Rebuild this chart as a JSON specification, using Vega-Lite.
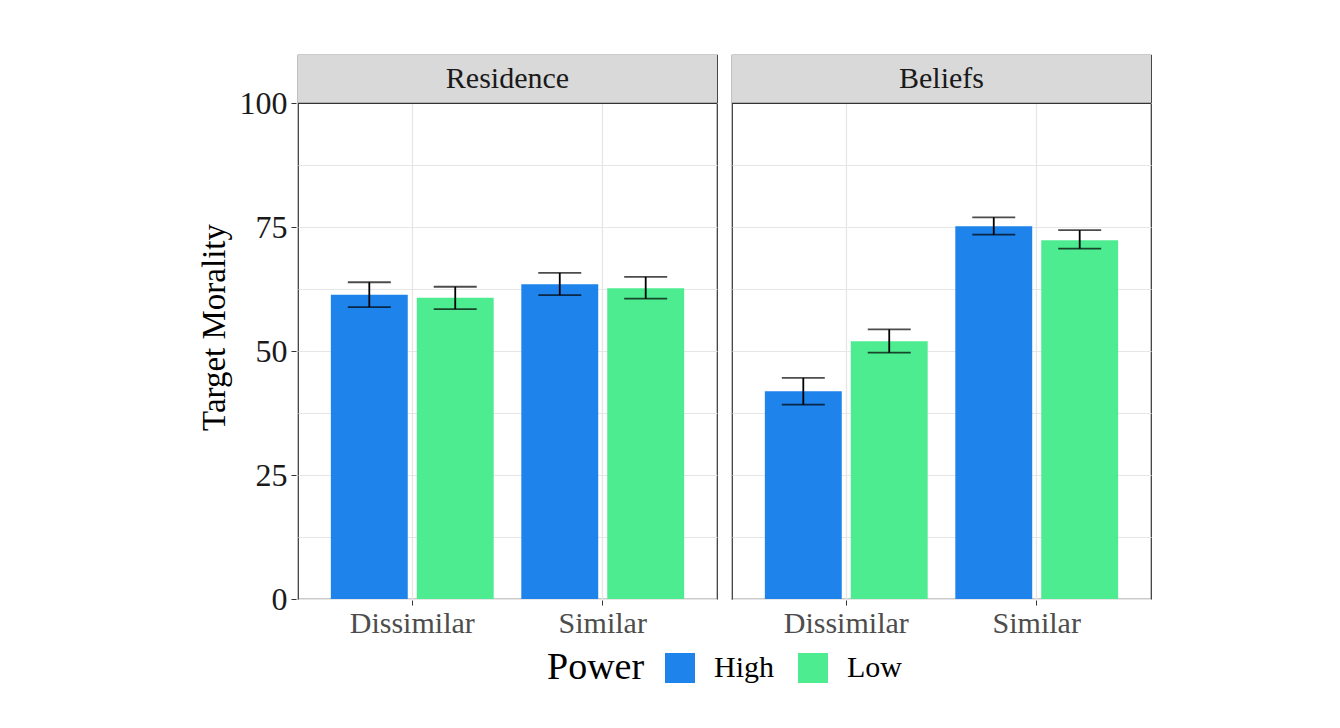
{
  "$schema": "https://vega.github.io/schema/vega-lite/v6.json",
  "background": "white",
  "padding": {"left": 198, "top": 54, "right": 0, "bottom": 0},
  "config": {
    "view": {"stroke": "#333333", "strokeWidth": 1.2},
    "font": "Liberation Serif"
  },
  "data": {
    "values": [
      {"panel": "Residence", "cond": "Dissimilar", "power": "High", "mean": 61.4, "lo": 58.9, "hi": 63.9},
      {"panel": "Residence", "cond": "Dissimilar", "power": "Low", "mean": 60.8, "lo": 58.5, "hi": 63.0},
      {"panel": "Residence", "cond": "Similar", "power": "High", "mean": 63.5, "lo": 61.3, "hi": 65.8},
      {"panel": "Residence", "cond": "Similar", "power": "Low", "mean": 62.7, "lo": 60.6, "hi": 65.0},
      {"panel": "Beliefs", "cond": "Dissimilar", "power": "High", "mean": 41.9, "lo": 39.2, "hi": 44.6},
      {"panel": "Beliefs", "cond": "Dissimilar", "power": "Low", "mean": 52.0, "lo": 49.7, "hi": 54.4},
      {"panel": "Beliefs", "cond": "Similar", "power": "High", "mean": 75.2, "lo": 73.5, "hi": 77.0},
      {"panel": "Beliefs", "cond": "Similar", "power": "Low", "mean": 72.4, "lo": 70.7, "hi": 74.4}
    ]
  },
  "facet": {"column": {"field": "panel", "type": "nominal", "sort": ["Residence", "Beliefs"], "header": null}},
  "spacing": 11,
  "spec": {
    "width": 419,
    "height": 544,
    "layer": [
      {
        "transform": [{"filter": "datum.cond === 'Dissimilar' && datum.power === 'High'"}],
        "mark": {"type": "rect", "fill": "#d9d9d9"},
        "encoding": {
          "y": {"datum": 100, "type": "quantitative"},
          "y2": {"datum": 109.75}
        }
      },
      {
        "transform": [{"filter": "datum.cond === 'Dissimilar' && datum.power === 'High'"}],
        "mark": {"type": "rule", "color": "#333333", "strokeWidth": 1.2},
        "encoding": {
          "y": {"datum": 100, "type": "quantitative"}
        }
      },
      {
        "transform": [{"filter": "datum.cond === 'Dissimilar' && datum.power === 'High'"}],
        "mark": {"type": "text", "fontSize": 30, "color": "#1a1a1a", "baseline": "middle", "align": "center"},
        "encoding": {
          "y": {"datum": 104.9, "type": "quantitative"},
          "text": {"field": "panel"}
        }
      },
      {
        "mark": {"type": "bar"},
        "encoding": {
          "x": {
            "field": "cond", "type": "nominal", "title": null, "sort": ["Dissimilar", "Similar"],
            "scale": {"paddingInner": 0.145, "paddingOuter": 0.1725},
            "axis": {"labelAngle": 0, "domain": false, "tickColor": "#333333", "tickSize": 5, "labelFontSize": 30, "labelColor": "#4d4d4d", "labelPadding": 3, "grid": true, "gridColor": "#e6e6e6", "gridWidth": 1.3, "bandPosition": 0.5}
          },
          "xOffset": {"field": "power", "type": "nominal", "scale": {"paddingInner": 0.105, "paddingOuter": 0}},
          "y": {
            "field": "mean", "type": "quantitative", "title": "Target Morality",
            "scale": {"domain": [0, 109.75], "nice": false, "zero": true},
            "axis": {
              "values": [0, 12.5, 25, 37.5, 50, 62.5, 75, 87.5, 100],
              "labelExpr": "datum.value % 25 === 0 ? datum.label : ''",
              "tickOpacity": {"condition": {"test": "datum.value % 25 !== 0", "value": 0}, "value": 1},
              "grid": true,
              "gridColor": "#e6e6e6",
              "gridWidth": 1.2,
              "domain": false, "tickColor": "#333333", "tickSize": 5,
              "labelFontSize": 32, "labelColor": "#1a1a1a", "labelPadding": 4,
              "titleFontSize": 33, "titleFontWeight": "normal", "titleColor": "black", "titlePadding": 8
            }
          },
          "fill": {
            "field": "power", "type": "nominal", "title": "Power",
            "scale": {"domain": ["High", "Low"], "range": ["#1E83EB", "#4EEC91"]},
            "legend": {"orient": "none", "legendX": 249, "legendY": 598, "direction": "horizontal", "titleOrient": "left", "titleFontSize": 38, "titleFontWeight": "normal", "titleColor": "black", "labelFontSize": 30, "labelColor": "black", "symbolType": "square", "symbolSize": 900, "symbolStrokeWidth": 0, "symbolOpacity": 1, "labelOffset": 19, "columnPadding": 24, "titlePadding": 20}
          }
        }
      },
      {
        "mark": {"type": "rule", "color": "black", "strokeWidth": 1.8},
        "encoding": {
          "x": {"field": "cond", "type": "nominal", "sort": ["Dissimilar", "Similar"]},
          "xOffset": {"field": "power", "type": "nominal"},
          "y": {"field": "lo", "type": "quantitative", "title": "Target Morality"},
          "y2": {"field": "hi"}
        }
      },
      {
        "mark": {"type": "tick", "color": "black", "size": 43, "thickness": 1.8},
        "encoding": {
          "x": {"field": "cond", "type": "nominal", "sort": ["Dissimilar", "Similar"]},
          "xOffset": {"field": "power", "type": "nominal"},
          "y": {"field": "lo", "type": "quantitative", "title": "Target Morality"}
        }
      },
      {
        "mark": {"type": "tick", "color": "black", "size": 43, "thickness": 1.8},
        "encoding": {
          "x": {"field": "cond", "type": "nominal", "sort": ["Dissimilar", "Similar"]},
          "xOffset": {"field": "power", "type": "nominal"},
          "y": {"field": "hi", "type": "quantitative", "title": "Target Morality"}
        }
      }
    ]
  }
}
